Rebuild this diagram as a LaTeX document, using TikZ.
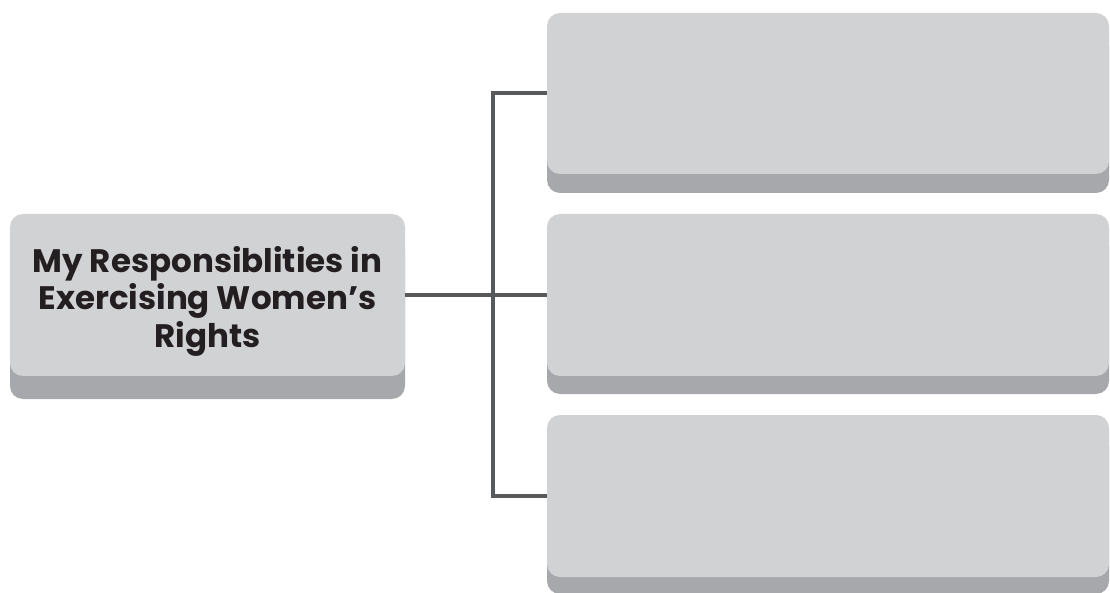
\documentclass[tikz,border=0pt]{standalone}
\usepackage{fontspec}
\setmainfont{Poppins}
\definecolor{cardlight}{HTML}{D1D2D4}
\definecolor{carddark}{HTML}{A7A8AB}
\definecolor{linkgray}{HTML}{58595B}
\definecolor{inktext}{HTML}{231F20}

\begin{document}
\begin{tikzpicture}[
    x = 1pt, y = 1pt,
    card/.style = {fill = cardlight, rounded corners = 13pt, inner sep = 0pt,
        preaction = {fill = carddark, transform canvas = {yshift = -#1}}},
    card/.default = 19pt,
    link/.style = {draw = linkgray, line width = 4pt}]

\useasboundingbox (0,0) rectangle (1110,592);

\path (207.5,297) node[card = 23pt, minimum width = 395, minimum height = 162] (resp) {}
      (828,498.5) node[card, minimum width = 562, minimum height = 161] (topcard) {}
      (828,297) node[card = 18pt, minimum width = 562, minimum height = 162] (midcard) {}
      (828,96) node[card = 17pt, minimum width = 562, minimum height = 162] (botcard) {}
      ;
\node[text = inktext, align = center, font = \fontsize{32.5}{37.5}\selectfont\bfseries]
    (resptext) at ([yshift = -6pt]resp.center)
    {My Responsiblities in\\Exercising Women’s\\Rights};
\coordinate (hub) at (493,297);

\draw[link] (resp.east) -- (hub) -- (midcard.west);
\draw[link] (topcard.west) -| (hub) |- (botcard.west);
\end{tikzpicture}
\end{document}
